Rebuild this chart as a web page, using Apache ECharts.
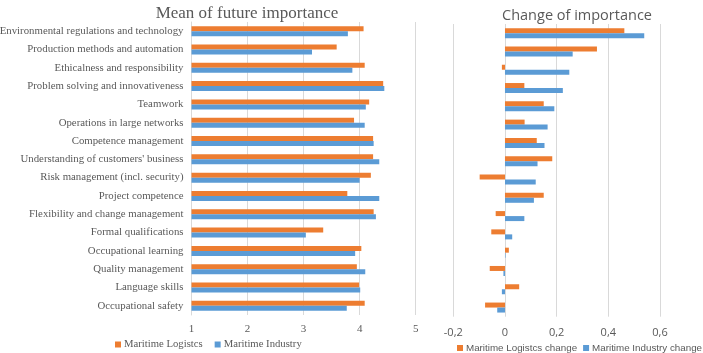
<!DOCTYPE html>
<html><head><meta charset="utf-8">
<script src="https://cdn.jsdelivr.net/npm/echarts@6/dist/echarts.min.js"></script>
<style>html,body{margin:0;padding:0;background:#fff}#c{width:703px;height:353px}</style>
</head><body><div id="c"></div>
<script>
const categories = [
  "Environmental regulations and technology",
  "Production methods and automation",
  "Ethicalness and responsibility",
  "Problem solving and innovativeness",
  "Teamwork",
  "Operations in large networks",
  "Competence management",
  "Understanding of customers' business",
  "Risk management (incl. security)",
  "Project competence",
  "Flexibility and change management",
  "Formal qualifications",
  "Occupational learning",
  "Quality management",
  "Language skills",
  "Occupational safety"
];
const meanLogistics = [4.07,3.59,4.09,4.42,4.17,3.90,4.24,4.24,4.20,3.78,4.25,3.35,4.03,3.95,3.99,4.09];
const meanIndustry  = [3.79,3.15,3.87,4.44,4.11,4.09,4.25,4.35,4.00,4.35,4.29,3.04,3.92,4.10,4.01,3.77];
const changeLogistics = [0.462,0.356,-0.012,0.075,0.150,0.076,0.123,0.183,-0.098,0.150,-0.036,-0.053,0.015,-0.059,0.055,-0.077];
const changeIndustry  = [0.539,0.262,0.249,0.224,0.191,0.165,0.153,0.126,0.119,0.112,0.075,0.028,0.002,-0.006,-0.012,-0.030];
const leftTicks = [1,2,3,4,5];
const rightTicks = ["-0,2","0","0,2","0,4","0,6"];

const ORANGE = '#ED7D31', BLUE = '#5B9BD5', GRID = '#D9D9D9', TXT = '#595959';
const SERIF = '"Liberation Serif", "DejaVu Serif", serif';
const SANS = '"Open Sans", "Liberation Sans", sans-serif';
const SANS2 = '"Liberation Sans", "Open Sans", sans-serif';

const chart = echarts.init(document.getElementById('c'));
chart.setOption({
  animation: false,
  title: [
    {text: 'Mean of future importance', left: 242, top: 0, textAlign: 'center',
     textStyle: {fontFamily: SERIF, fontSize: 17, fontWeight: 'normal', color: TXT}},
    {text: 'Change of importance', left: 572, top: 3, textAlign: 'center',
     textStyle: {fontFamily: SANS, fontSize: 14.5, fontWeight: 'normal', color: TXT}}
  ],
  legend: [
    {data: ['Maritime Logistcs','Maritime Industry'], left: 115, top: 339, padding: 0, width: 300, itemWidth: 6, itemHeight: 6, itemGap: 12,
     icon: 'rect', textStyle: {fontFamily: SERIF, fontSize: 10.7, color: TXT, padding: [0,0,0,-2]}},
    {data: ['Maritime Logistcs change','Maritime Industry change'], left: 457, top: 343, padding: 0, width: 260, itemWidth: 6, itemHeight: 6, itemGap: 6,
     icon: 'rect', textStyle: {fontFamily: SANS2, fontSize: 9.8, color: TXT, padding: [0,0,0,-2]}}
  ],
  grid: [
    {left: 191.5, right: 287.3, top: 22, bottom: 38, outerBoundsMode: 'none', containLabel: false},
    {left: 453.3, right: 43, top: 24, bottom: 36.3, outerBoundsMode: 'none', containLabel: false}
  ],
  xAxis: [
    {gridIndex: 0, type: 'value', min: leftTicks[0], max: leftTicks[leftTicks.length-1], interval: 1,
     axisLine: {show: false}, axisTick: {show: false},
     splitLine: {lineStyle: {color: GRID, width: 1}},
     axisLabel: {fontFamily: SERIF, fontSize: 11, color: TXT, margin: 9,
       formatter: v => leftTicks.indexOf(v) >= 0 ? String(v) : ''}},
    {gridIndex: 1, type: 'value', min: -0.2, max: 0.6, interval: 0.2,
     axisLine: {show: false}, axisTick: {show: false},
     splitLine: {lineStyle: {color: GRID, width: 1}},
     axisLabel: {fontFamily: SANS, fontSize: 11, color: TXT, margin: 11,
       formatter: v => rightTicks[Math.round((v + 0.2) / 0.2)]}}
  ],
  yAxis: [
    {gridIndex: 0, type: 'category', data: categories, inverse: true,
     axisLine: {show: true, lineStyle: {color: GRID}}, axisTick: {show: false},
     axisLabel: {fontFamily: SERIF, fontSize: 10.8, color: TXT, margin: 8}},
    {gridIndex: 1, type: 'category', data: categories, inverse: true,
     axisLine: {show: false}, axisTick: {show: false}, axisLabel: {show: false}}
  ],
  series: [
    {name: 'Maritime Logistcs', type: 'bar', xAxisIndex: 0, yAxisIndex: 0, data: meanLogistics,
     itemStyle: {color: ORANGE}, barWidth: 5, barGap: '0%'},
    {name: 'Maritime Industry', type: 'bar', xAxisIndex: 0, yAxisIndex: 0, data: meanIndustry,
     itemStyle: {color: BLUE}, barWidth: 5, barGap: '0%'},
    {name: 'Maritime Logistcs change', type: 'bar', xAxisIndex: 1, yAxisIndex: 1, data: changeLogistics,
     itemStyle: {color: ORANGE}, barWidth: 5, barGap: '0%'},
    {name: 'Maritime Industry change', type: 'bar', xAxisIndex: 1, yAxisIndex: 1, data: changeIndustry,
     itemStyle: {color: BLUE}, barWidth: 5, barGap: '0%'}
  ]
});
</script></body></html>
